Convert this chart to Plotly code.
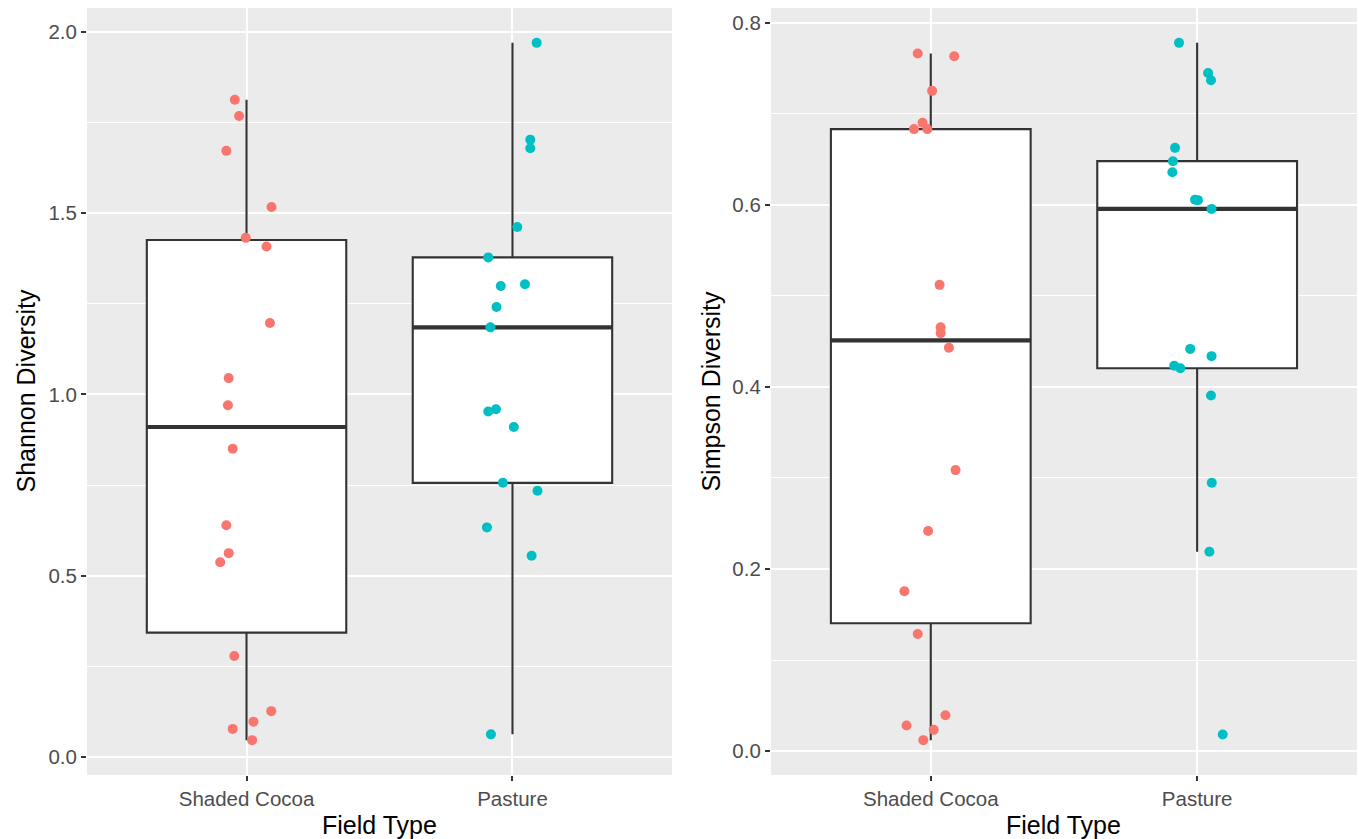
import numpy as np
import plotly.graph_objects as go

categories = ["Shaded Cocoa", "Pasture"]
cat_pos = [1, 2]

# Shannon diversity values
shannon_cocoa = [1.813, 1.768, 1.672, 1.517, 1.432, 1.408, 1.197, 1.045, 0.970,
                 0.850, 0.639, 0.562, 0.537, 0.278, 0.126, 0.097, 0.077, 0.046]
shannon_cocoa_jitter = [-0.044, -0.028, -0.076, 0.094, -0.003, 0.075, 0.088, -0.067, -0.070,
                        -0.052, -0.076, -0.067, -0.099, -0.046, 0.093, 0.026, -0.052, 0.021]
shannon_pasture = [1.970, 1.703, 1.679, 1.462, 1.378, 1.299, 1.304, 1.241, 1.185,
                   0.953, 0.959, 0.910, 0.756, 0.734, 0.633, 0.555, 0.062]
shannon_pasture_jitter = [0.091, 0.067, 0.067, 0.018, -0.091, -0.044, 0.047, -0.060, -0.083,
                          -0.091, -0.062, 0.005, -0.036, 0.094, -0.096, 0.072, -0.081]

# Simpson diversity values
simpson_cocoa = [0.766, 0.763, 0.725, 0.690, 0.683, 0.683, 0.512, 0.4655, 0.459,
                 0.443, 0.3086, 0.2417, 0.1755, 0.1287, 0.0395, 0.0282, 0.0234, 0.0121]
simpson_cocoa_jitter = [-0.049, 0.088, 0.005, -0.031, -0.063, -0.013, 0.033, 0.037, 0.037,
                        0.068, 0.093, -0.010, -0.099, -0.049, 0.055, -0.091, 0.011, -0.028]
simpson_pasture = [0.7777, 0.7447, 0.7367, 0.6624, 0.6478, 0.6357, 0.6055, 0.6050, 0.5954,
                   0.4417, 0.4337, 0.4231, 0.4205, 0.3905, 0.2947, 0.2190, 0.0183]
simpson_pasture_jitter = [-0.068, 0.041, 0.052, -0.083, -0.091, -0.093, -0.008, 0.003, 0.054,
                          -0.026, 0.054, -0.086, -0.063, 0.052, 0.055, 0.046, 0.096]

COLORS = ["#F8766D", "#00BFC4"]
BOX_W = 0.75
LINE = "#333333"


def box_stats(vals):
    a = np.asarray(vals, dtype=float)
    q1, med, q3 = np.percentile(a, [25, 50, 75])
    iqr = q3 - q1
    lo = a[a >= q1 - 1.5 * iqr].min()
    hi = a[a <= q3 + 1.5 * iqr].max()
    return q1, med, q3, lo, hi


fig = go.Figure()

panels = [
    ("x", "y", [shannon_cocoa, shannon_pasture], [shannon_cocoa_jitter, shannon_pasture_jitter]),
    ("x2", "y2", [simpson_cocoa, simpson_pasture], [simpson_cocoa_jitter, simpson_pasture_jitter]),
]

for xa, ya, groups, jitters in panels:
    for i, (vals, jit) in enumerate(zip(groups, jitters)):
        q1, med, q3, lo, hi = box_stats(vals)
        p = cat_pos[i]
        fig.add_trace(go.Box(
            x=[p], q1=[q1], median=[med], q3=[q3], lowerfence=[lo], upperfence=[hi],
            width=BOX_W, fillcolor="white", line=dict(color=LINE, width=2.1),
            whiskerwidth=0, boxpoints=False, showlegend=False, hoverinfo="skip",
            xaxis=xa, yaxis=ya))
        fig.add_trace(go.Scatter(
            x=[p - BOX_W / 2, p + BOX_W / 2], y=[med, med], mode="lines",
            line=dict(color=LINE, width=4.2), showlegend=False, hoverinfo="skip",
            xaxis=xa, yaxis=ya))
    for i, (vals, jit) in enumerate(zip(groups, jitters)):
        p = cat_pos[i]
        fig.add_trace(go.Scatter(
            x=[p + j for j in jit], y=vals, mode="markers",
            marker=dict(color=COLORS[i], size=10, line=dict(width=0)),
            showlegend=False, xaxis=xa, yaxis=ya))


def yrange(groups):
    allv = np.concatenate([np.asarray(g) for g in groups])
    lo, hi = allv.min(), allv.max()
    pad = 0.05 * (hi - lo)
    return [lo - pad, hi + pad]


FONT = "Liberation Sans, Arial, sans-serif"
tickfont = dict(family=FONT, size=20.5, color="#4D4D4D")
TITLE_SIZE = 25

xcommon = dict(range=[0.4, 2.6], tickvals=cat_pos, ticktext=categories, showgrid=True,
               gridcolor="white", gridwidth=1.6, ticks="outside", ticklen=5, tickwidth=1.5,
               tickcolor=LINE, tickfont=tickfont, zeroline=False, showline=False,
               automargin=False, fixedrange=True)
ycommon = dict(showgrid=True, gridcolor="white", gridwidth=1.6, ticks="outside", ticklen=5,
               tickwidth=1.5, tickcolor=LINE, tickfont=tickfont, zeroline=False,
               showline=False, tickformat=".1f", automargin=False)

fig.update_layout(
    width=1359, height=839,
    margin=dict(l=0, r=0, t=8, b=64),
    paper_bgcolor="white", plot_bgcolor="#EBEBEB",
    font=dict(family=FONT),
    xaxis=dict(domain=[0.0640, 0.4945], anchor="y", **xcommon),
    xaxis2=dict(domain=[0.5673, 0.9985], anchor="y2", **xcommon),
    yaxis=dict(domain=[0, 1], anchor="x", range=yrange([shannon_cocoa, shannon_pasture]),
               dtick=0.5, tick0=0,
               minor=dict(showgrid=True, gridcolor="white", gridwidth=0.8, dtick=0.25, tick0=0),
               **ycommon),
    yaxis2=dict(domain=[0, 1], anchor="x2", range=yrange([simpson_cocoa, simpson_pasture]),
                dtick=0.2, tick0=0,
                minor=dict(showgrid=True, gridcolor="white", gridwidth=0.8, dtick=0.1, tick0=0),
                **ycommon),
    annotations=[
        dict(text="Shannon Diversity", x=0.0184, y=0.5, xref="paper", yref="paper",
             textangle=-90, showarrow=False, xanchor="center", yanchor="middle",
             font=dict(family=FONT, size=TITLE_SIZE, color="black")),
        dict(text="Simpson Diversity", x=0.5225, y=0.5, xref="paper", yref="paper",
             textangle=-90, showarrow=False, xanchor="center", yanchor="middle",
             font=dict(family=FONT, size=TITLE_SIZE, color="black")),
        dict(text="Field Type", x=(0.0640 + 0.4945) / 2, y=-0.0652, xref="paper", yref="paper",
             showarrow=False, xanchor="center", yanchor="middle",
             font=dict(family=FONT, size=TITLE_SIZE, color="black")),
        dict(text="Field Type", x=(0.5673 + 0.9985) / 2, y=-0.0652, xref="paper", yref="paper",
             showarrow=False, xanchor="center", yanchor="middle",
             font=dict(family=FONT, size=TITLE_SIZE, color="black")),
    ],
)

fig.write_html("out.html", config={"displayModeBar": False},
               post_script="document.body.style.margin='0';")
